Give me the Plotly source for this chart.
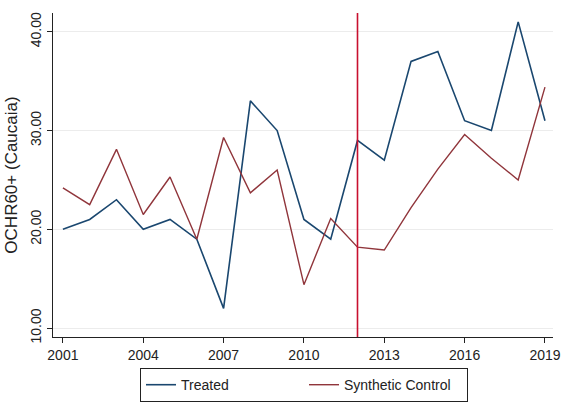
import plotly.graph_objects as go

years = list(range(2001, 2020))
treated = [20, 21, 23, 20, 21, 19, 12, 33, 30, 21, 19, 29, 27, 37, 38, 31, 30, 41, 31]
synthetic = [24.2, 22.5, 28.1, 21.5, 25.3, 19.0, 29.3, 23.7, 26.0, 14.4, 21.1, 18.2,
             17.9, 22.2, 26.1, 29.6, 27.2, 25.0, 34.4]
treatment_year = 2012
x_ticks = [2001, 2004, 2007, 2010, 2013, 2016, 2019]
y_ticks = [10, 20, 30, 40]
y_ticklabels = ["10.00", "20.00", "30.00", "40.00"]

fig = go.Figure()
fig.add_trace(go.Scatter(x=years, y=treated, mode="lines", name="Treated",
                         line=dict(color="#1a476f", width=1.6)))
fig.add_trace(go.Scatter(x=years, y=synthetic, mode="lines", name="Synthetic Control",
                         line=dict(color="#90353b", width=1.4)))
fig.add_vline(x=treatment_year, line=dict(color="#c8102e", width=1.6))

fig.update_layout(
    width=570, height=403,
    margin=dict(l=53, r=17, t=13, b=66, autoexpand=False),
    paper_bgcolor="white", plot_bgcolor="white",
    font=dict(family="Liberation Sans, Arial, sans-serif", size=14, color="#222"),
    legend=dict(orientation="h", x=0.502, y=-0.096, xanchor="center", yanchor="top",
                bordercolor="#222", borderwidth=1, font=dict(size=14),
                entrywidth=118, tracegroupgap=0),
    showlegend=True,
)
fig.update_xaxes(range=[2000.63, 2019.3], tickvals=x_ticks, showgrid=False,
                 showline=True, linecolor="#222", linewidth=1.2,
                 ticks="outside", ticklen=5, tickcolor="#222", zeroline=False)
fig.update_yaxes(range=[9.1, 41.9], tickvals=y_ticks, ticktext=y_ticklabels,
                 tickangle=-90, showgrid=True, gridcolor="#ececec", gridwidth=1,
                 showline=True, linecolor="#222", linewidth=1.2,
                 ticks="outside", ticklen=5, tickcolor="#222", zeroline=False,
                 title=dict(text="OCHR60+ (Caucaia)", standoff=6))

fig.write_html("out.html")
